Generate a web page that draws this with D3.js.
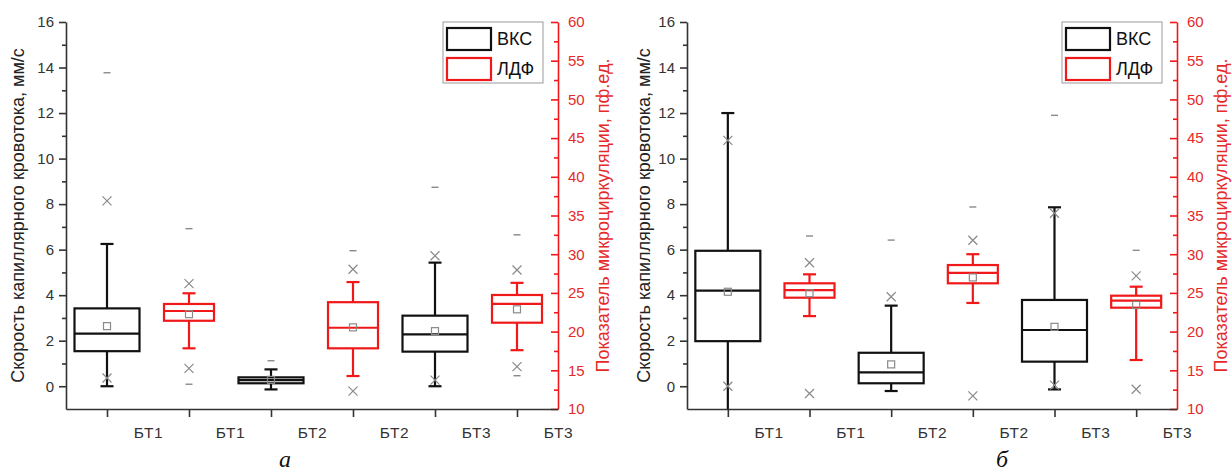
<!DOCTYPE html>
<html>
<head>
<meta charset="utf-8">
<script src="https://cdn.jsdelivr.net/npm/d3@7"></script>
<style>
body { margin: 0; background: #fff; }
svg { display: block; font-family: "Liberation Sans", Arial, sans-serif; }
</style>
</head>
<body>
<svg></svg>
<script>
// categories along x, one box per slot
const groups = ['БТ1', 'БТ1', 'БТ2', 'БТ2', 'БТ3', 'БТ3'];
const methods = ['ВКС', 'ЛДФ', 'ВКС', 'ЛДФ', 'ВКС', 'ЛДФ'];
const legendNames = ['ВКС', 'ЛДФ'];
const leftTicks = [0, 2, 4, 6, 8, 10, 12, 14, 16];
const rightTicks = [10, 15, 20, 25, 30, 35, 40, 45, 50, 55, 60];
const leftTitle = 'Скорость капиллярного кровотока, мм/с';
const rightTitle = 'Показатель микроциркуляции, пф.ед.';

// panel а  (ВКС values on left axis, ЛДФ on right axis)
const aWhiskerLow = [0, 17.84, -0.14, 14.26, 0, 17.6];
const aQ1 = [1.54, 21.4, 0.13, 17.84, 1.52, 21.15];
const aMedian = [2.31, 22.66, 0.27, 20.5, 2.28, 23.57];
const aQ3 = [3.42, 23.57, 0.39, 23.8, 3.1, 24.73];
const aWhiskerHigh = [6.25, 24.95, 0.74, 26.4, 5.43, 26.3];
const aMean = [2.64, 22.25, 0.28, 20.55, 2.42, 22.88];
const aCrossLow = [0.36, 15.25, null, 12.3, 0.27, 15.47];
const aCrossHigh = [8.14, 26.2, null, 28.05, 5.73, 27.96];
const aDashLow = [null, 13.2, null, null, null, 14.3];
const aDashHigh = [13.77, 33.3, 1.12, 30.45, 8.74, 32.5];

// panel б
const bWhiskerLow = [-1.5, 22.0, -0.21, 23.7, -0.14, 16.33];
const bQ1 = [1.98, 24.38, 0.13, 26.24, 1.08, 23.09];
const bMedian = [4.2, 25.37, 0.61, 27.6, 2.47, 24.0];
const bQ3 = [5.95, 26.24, 1.47, 28.6, 3.79, 24.64];
const bWhiskerHigh = [12, 27.4, 3.54, 30.0, 7.86, 25.8];
const bMean = [4.15, 24.95, 0.96, 27.0, 2.61, 23.44];
const bCrossLow = [0, 12.0, null, 11.7, 0.05, 12.55];
const bCrossHigh = [10.8, 28.9, 3.93, 31.8, 7.6, 27.2];
const bDashLow = [null, null, null, null, null, null];
const bDashHigh = [null, 32.35, 6.42, 36.1, 11.9, 30.5];

const size = {w: 1232, h: 475};
const yTop = 22, yBottom = 409;
const black = '#111', red = '#f01818', redText = '#e52a2a', grey = '#8a8a8a';

const svg = d3.select('svg').attr('width', size.w).attr('height', size.h);

function makeBoxes(wl, q1, med, q3, wh, mean, cl, ch, dl, dh) {
    return groups.map((g, i) => ({
        i: i, method: methods[i],
        wl: wl[i], q1: q1[i], med: med[i], q3: q3[i], wh: wh[i],
        mean: mean[i], cl: cl[i], ch: ch[i], dl: dl[i], dh: dh[i]
    }));
}

const panels = [
    {x0: 66, x1: 558, caption: 'а', capX: 285, lTitleX: 18, rTitleX: 603,
     boxes: makeBoxes(aWhiskerLow, aQ1, aMedian, aQ3, aWhiskerHigh, aMean, aCrossLow, aCrossHigh, aDashLow, aDashHigh)},
    {x0: 687, x1: 1177, caption: 'б', capX: 1002, lTitleX: 644, rTitleX: 1221,
     boxes: makeBoxes(bWhiskerLow, bQ1, bMedian, bQ3, bWhiskerHigh, bMean, bCrossLow, bCrossHigh, bDashLow, bDashHigh)}
];

panels.forEach((p, pi) => drawPanel(p, pi));

function drawPanel(p, pi) {
    const g = svg.append('g');
    const x = d3.scalePoint().domain(d3.range(groups.length)).range([p.x0, p.x1]).padding(0.5);
    const yL = d3.scaleLinear().domain([-1, 16]).range([yBottom, yTop]);
    const yR = d3.scaleLinear().domain([10, 60]).range([yBottom, yTop]);
    const step = x.step();

    const clipId = 'clip' + pi;
    g.append('clipPath').attr('id', clipId)
        .append('rect').attr('x', p.x0).attr('y', yTop).attr('width', p.x1 - p.x0).attr('height', yBottom - yTop);

    // left axis
    const la = g.append('g').attr('transform', `translate(${p.x0},0)`)
        .call(d3.axisLeft(yL).tickValues(leftTicks).tickSize(7).tickSizeOuter(0).tickPadding(5));
    g.append('g').attr('transform', `translate(${p.x0},0)`)
        .call(d3.axisLeft(yL).tickValues(d3.range(1, 16, 2)).tickSize(4).tickSizeOuter(0).tickFormat(''))
        .select('.domain').remove();
    g.selectAll('.tick line, .domain').attr('stroke', '#333').attr('stroke-width', 1.6);
    la.selectAll('text').attr('font-size', 15).attr('fill', '#333').attr('font-family', null);

    // right axis, ticks pointing inward
    const ra = g.append('g').attr('transform', `translate(${p.x1},0)`)
        .call(d3.axisRight(yR).tickValues(rightTicks).tickSize(-7).tickSizeOuter(0).tickPadding(10));
    g.append('g').attr('transform', `translate(${p.x1},0)`)
        .call(d3.axisRight(yR).tickValues(d3.range(12.5, 60, 5)).tickSize(-4).tickSizeOuter(0).tickFormat(''))
        .attr('class', 'rminor').select('.domain').remove();
    ra.selectAll('line, .domain').attr('stroke', red).attr('stroke-width', 1.6);
    g.selectAll('.rminor line').attr('stroke', red).attr('stroke-width', 1.6);
    ra.selectAll('text').attr('font-size', 15).attr('fill', redText).attr('font-family', null);

    // bottom axis, labels shifted half a step
    const ba = g.append('g').attr('transform', `translate(0,${yBottom})`)
        .call(d3.axisBottom(x).tickSize(8).tickSizeOuter(0).tickPadding(10).tickFormat(i => groups[i]));
    ba.selectAll('line, .domain').attr('stroke', '#333').attr('stroke-width', 1.6);
    ba.selectAll('text').attr('x', step / 2).attr('font-size', 15.5).attr('fill', '#333')
        .attr('font-family', null).attr('letter-spacing', 0.6);

    // axis titles
    g.append('text').attr('transform', `translate(${p.lTitleX},${(yTop + yBottom) / 2}) rotate(-90)`)
        .attr('text-anchor', 'middle').attr('dominant-baseline', 'central')
        .attr('font-size', 18).attr('fill', '#222').text(leftTitle);
    g.append('text').attr('transform', `translate(${p.rTitleX},${(yTop + yBottom) / 2}) rotate(-90)`)
        .attr('text-anchor', 'middle').attr('dominant-baseline', 'central')
        .attr('font-size', 18).attr('fill', redText).text(rightTitle);

    // boxes
    const plot = g.append('g').attr('clip-path', `url(#${clipId})`);
    const box = plot.selectAll('g.box').data(p.boxes).enter().append('g').attr('class', 'box');

    box.each(function(d) {
        const sel = d3.select(this);
        const isL = d.method === 'ВКС';
        const y = isL ? yL : yR;
        const col = isL ? black : red;
        const bw = isL ? 65 : 50;
        const cx = x(d.i);
        const sw = 2.2;

        sel.append('line').attr('x1', cx).attr('x2', cx).attr('y1', y(d.q3)).attr('y2', y(d.wh))
            .attr('stroke', col).attr('stroke-width', sw);
        sel.append('line').attr('x1', cx).attr('x2', cx).attr('y1', y(d.q1)).attr('y2', y(d.wl))
            .attr('stroke', col).attr('stroke-width', sw);
        [d.wl, d.wh].forEach(v => {
            sel.append('line').attr('x1', cx - 6.5).attr('x2', cx + 6.5).attr('y1', y(v)).attr('y2', y(v))
                .attr('stroke', col).attr('stroke-width', sw);
        });
        sel.append('rect').attr('x', cx - bw / 2).attr('width', bw)
            .attr('y', y(d.q3)).attr('height', y(d.q1) - y(d.q3))
            .attr('fill', 'none').attr('stroke', col).attr('stroke-width', sw);
        sel.append('line').attr('x1', cx - bw / 2).attr('x2', cx + bw / 2)
            .attr('y1', y(d.med)).attr('y2', y(d.med)).attr('stroke', col).attr('stroke-width', sw);

        // mean square
        sel.append('rect').attr('x', cx - 3.5).attr('y', y(d.mean) - 3.5).attr('width', 7).attr('height', 7)
            .attr('fill', 'none').attr('stroke', grey).attr('stroke-width', 1.2);
        // crosses
        [d.cl, d.ch].filter(v => v != null).forEach(v => {
            const yy = y(v);
            sel.append('path').attr('d', `M${cx - 4.5},${yy - 4.5}L${cx + 4.5},${yy + 4.5}M${cx - 4.5},${yy + 4.5}L${cx + 4.5},${yy - 4.5}`)
                .attr('stroke', grey).attr('stroke-width', 1.2).attr('fill', 'none');
        });
        // min/max dashes
        [d.dl, d.dh].filter(v => v != null).forEach(v => {
            sel.append('line').attr('x1', cx - 3.5).attr('x2', cx + 3.5).attr('y1', y(v)).attr('y2', y(v))
                .attr('stroke', grey).attr('stroke-width', 1.4);
        });
    });

    // legend
    const lg = g.append('g').attr('transform', `translate(${p.x1 - 115},${yTop})`);
    lg.append('rect').attr('width', 100).attr('height', 61)
        .attr('fill', '#fff').attr('stroke', '#999').attr('stroke-width', 1);
    legendNames.forEach((name, k) => {
        lg.append('rect').attr('x', 4).attr('y', 6 + k * 30).attr('width', 44).attr('height', 22)
            .attr('fill', 'none').attr('stroke', k === 0 ? black : red).attr('stroke-width', 2.2);
        lg.append('text').attr('x', 54).attr('y', 17 + k * 30).attr('dominant-baseline', 'central')
            .attr('font-size', 18).attr('fill', '#111').text(name);
    });

    // panel caption
    g.append('text').attr('x', p.capX).attr('y', 467).attr('text-anchor', 'middle')
        .attr('font-family', '"Liberation Serif", "DejaVu Serif", serif').attr('font-style', 'italic')
        .attr('font-size', 24).attr('fill', '#111').text(p.caption);
}
</script>
</body>
</html>
